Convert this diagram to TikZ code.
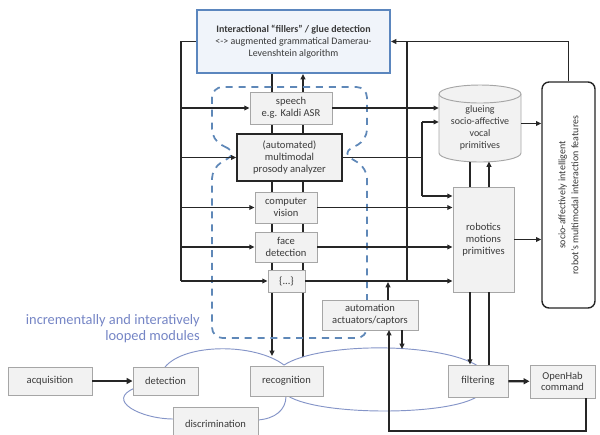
\documentclass[tikz,border=0pt]{standalone}
\usepackage{fontspec}
\setmainfont{Carlito}
\usetikzlibrary{arrows.meta,backgrounds}
\definecolor{boxfill}{HTML}{F2F2F2}
\definecolor{boxline}{HTML}{A6A6A6}
\definecolor{topfill}{HTML}{F0F4FA}
\definecolor{topline}{HTML}{5B86BE}
\definecolor{conncol}{HTML}{262626}
\definecolor{loopcol}{HTML}{8595C8}
\definecolor{dashcol}{HTML}{5F88B8}
\definecolor{labelcol}{HTML}{7585C5}
\definecolor{txt}{HTML}{3A3A3A}
\newcommand\pxu{0.03cm}
\begin{document}
\begin{tikzpicture}[x=0.03cm,y=-0.03cm,
  sz/.style 2 args={minimum width=#1*\pxu, minimum height=#2*\pxu},
  box/.style={draw=boxline, fill=boxfill, line width=0.8pt, inner sep=0pt, align=center, text=txt, font=\fontsize{9}{10}\selectfont},
  prosbox/.style={box, draw=conncol, line width=1.2pt},
  topbox/.style={box, draw=topline, fill=topfill, line width=1.8pt, font=\fontsize{8.5}{10}\selectfont},
  featbox/.style={draw=conncol, fill=white, line width=1.2pt, rounded corners=6pt, inner sep=0pt},
  plain/.style={inner sep=0pt, align=center, text=txt},
  conn/.style={draw=conncol, line width=1.2pt},
  arr/.style={conn, -{Triangle[length=4.5pt,width=4pt]}},
  thickarr/.style={draw=conncol, line width=2pt, -{Triangle[length=5pt,width=5pt]}},
  loop/.style={draw=loopcol, line width=0.8pt},
  dashreg/.style={draw=dashcol, line width=1.5pt, dash pattern=on 6pt off 5pt, rounded corners=9pt}
]
\useasboundingbox (0,0) rectangle (600,434);

% ---- nodes ----
\node[topbox, sz={193}{63}] (top) at (293.5,41.5) {\textbf{Interactional ``fillers'' / glue detection}\\<-> augmented grammatical Damerau-\\Levenshtein algorithm};
\node[box, sz={82}{32}] (speech) at (291,108) {speech\\e.g. Kaldi ASR};
\node[prosbox, sz={105}{47}] (pros) at (289.5,157.5) {(automated)\\multimodal\\prosody analyzer};
\node[box, sz={62}{31}] (cv) at (286,207.5) {computer\\vision};
\node[box, sz={62}{30}] (face) at (286,247) {face\\detection};
\node[box, sz={37}{22}] (dots) at (286.5,281) {\{...\}};
\node[box, sz={96}{30}] (auto) at (370,315) {automation\\actuators/captors};
\node[box, sz={84}{28}] (acq) at (50,381) {acquisition};
\node[box, sz={65}{28}] (det) at (165.5,381) {detection};
\node[box, sz={73}{30}] (rec) at (286.5,381) {recognition};
\node[box, sz={85}{33}] (disc) at (215.5,424) {discrimination};
\node[box, sz={60}{32}] (filt) at (478,381) {filtering};
\node[box, sz={65}{33}] (ohab) at (562.5,381.5) {OpenHab\\command};
\node[box, sz={61}{105}] (rob) at (483.5,239.5) {robotics\\motions\\primitives};
\node[featbox, sz={53}{226}] (feat) at (568.5,195) {};
\node[plain, rotate=90, font=\fontsize{8.5}{11}\selectfont] (feattext) at (feat.center) {socio-affectively intelligent\\robot's multimodal interaction features};

% cylinder
\filldraw[draw=boxline, fill=boxfill, line width=0.8pt]
  (439,94) -- (439,153) .. controls (439,158) and (457.4,162) .. (480,162)
  .. controls (502.6,162) and (521,158) .. (521,153) -- (521,94)
  .. controls (521,89) and (502.6,85) .. (480,85)
  .. controls (457.4,85) and (439,89) .. (439,94) -- cycle;
\draw[draw=boxline, line width=0.8pt] (439,94) .. controls (439,99) and (457.4,103) .. (480,103)
  .. controls (502.6,103) and (521,99) .. (521,94);
\node[inner sep=0pt, sz={82}{77}] (cyl) at (480,123.5) {};
\node[plain, font=\fontsize{8.5}{10.2}\selectfont] (cyltext) at (480,128) {glueing\\socio-affective\\vocal\\primitives};

% label
\node[inner sep=0pt, anchor=east, text=labelcol, font=\fontsize{12.3}{14}\selectfont] (lbl) at (200,329.5) {\begin{tabular}{@{}r@{}}incrementally and interatively\\looped modules\end{tabular}};

% ---- coordinates ----
\coordinate (lbend) at (181,281);
\coordinate (rtop) at (407,41.5);
\coordinate (rbot) at (407,281);
\coordinate (jt) at (422,122);
\coordinate (jb) at (422,196);
\coordinate (vA) at (272,356);
\coordinate (vB) at (303,357);
\coordinate (ca) at (470,161.5);
\coordinate (cb) at (489,161.5);
\coordinate (au1) at (388,282);
\coordinate (au2) at (389,330);
\coordinate (au3) at (402,349);
\coordinate (ret) at (586,431);

% ---- background: verticals, loops, dashed region ----
\begin{pgfonlayer}{background}
  \draw[arr] (vA |- top.south) -- (vA);
  \draw[arr] (vB) -- (vB |- top.south);
  \draw[loop] (165,367) .. controls (185,343) and (255,343) .. (284,365);
  \draw[loop] (284,365) .. controls (320,342) and (440,342) .. (478,366);
  \draw[loop] (288,396) .. controls (320,416) and (450,416) .. (478,396);
  \draw[loop] (135,388) .. controls (105,400) and (140,419) .. (174,419);
  \draw[loop] (257,420) .. controls (275,419) and (286,410) .. (286,396);
  \draw[dashreg] (237,153) -- (212,140) -- (212,87) -- (367,87) -- (367,140) -- (342,153) -- (367,168) -- (367,338) -- (212,338) -- (212,168) -- cycle;
\end{pgfonlayer}

% ---- connectors ----
\draw[conn] (top.west) -| (lbend);
\draw[arr] (lbend) -- (dots.west);
\draw[arr] (speech.west -| lbend) -- (speech.west);
\draw[arr] (pros.west -| lbend) -- (pros.west);
\draw[arr] (cv.west -| lbend) -- (cv.west);
\draw[arr] (face.west -| lbend) -- (face.west);

\draw[arr] (feat.north) |- (top.east);
\draw[conn] (rbot) -- (rtop);
\draw[arr] (speech.east) -- (speech.east -| cyl.west);
\draw[conn] (pros.east) -- (pros.east -| jt);
\draw[conn] (jt) -- (jb);
\draw[arr] (jt) -- (jt -| cyl.west);
\draw[arr] (jb) -- (jb -| rob.west);
\draw[arr] (cv.east) -- (cv.east -| rob.west);
\draw[arr] (face.east) -- (face.east -| rob.west);
\draw[arr] (dots.east) -- (dots.east -| rob.west);
\draw[arr] (cyl.east) -- (cyl.east -| feat.west);
\draw[arr] (rob.east) -- (rob.east -| feat.west);
\draw[conn] (ca) -- (ca |- rob.north);
\draw[arr] (cb |- rob.north) -- (cb);
\draw[arr] (ca |- rob.south) -- (ca |- filt.north);
\draw[conn] (cb |- filt.north) -- (cb |- rob.south);

\draw[arr] (au1 |- auto.north) -- (au1);
\draw[arr] (auto.south -| au3) -- (au3);
\draw[arr] (ret |- ohab.south) -- (ret) -| (au2);

\draw[thickarr] (acq) -- (det);
\draw[thickarr] (filt) -- (ohab);
\end{tikzpicture}
\end{document}
